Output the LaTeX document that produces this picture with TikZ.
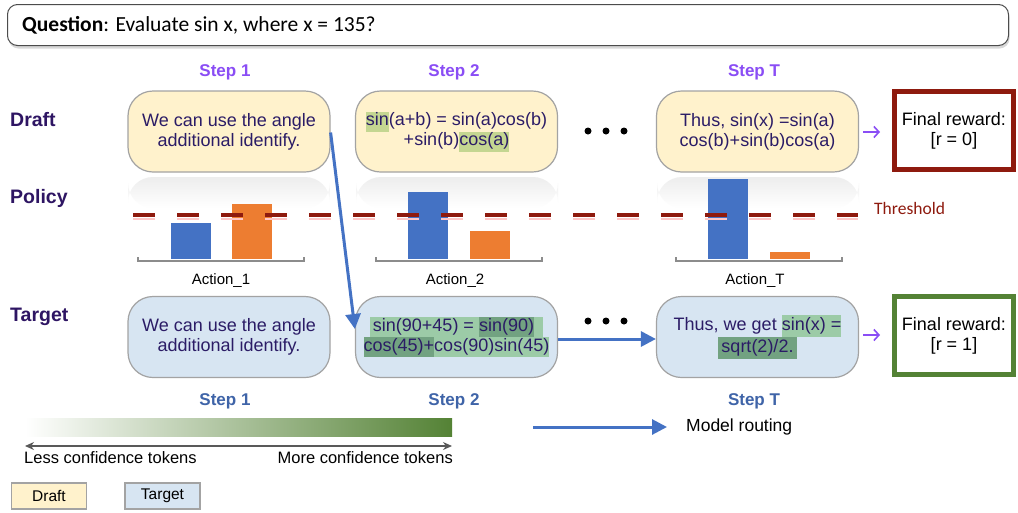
\documentclass[tikz,border=0pt]{standalone}
\usepackage{fontspec}
\setmainfont{Liberation Sans}
\newfontfamily\calib{Carlito}
\usetikzlibrary{arrows.meta,shadows,calc}
\definecolor{draftfill}{HTML}{FFF2CC}
\definecolor{targetfill}{HTML}{D7E5F2}
\definecolor{boxgray}{HTML}{A3A3A3}
\definecolor{txt}{HTML}{2B1C66}
\definecolor{rowlab}{HTML}{2E1563}
\definecolor{steptop}{HTML}{8A4DF5}
\definecolor{stepbot}{HTML}{3F64A8}
\definecolor{barblue}{HTML}{4472C4}
\definecolor{barorange}{HTML}{ED7D31}
\definecolor{darkred}{HTML}{8E1A0E}
\definecolor{darkgreen}{HTML}{548235}
\definecolor{hlolive}{HTML}{C4D691}
\definecolor{hlA}{HTML}{9CCBA7}
\definecolor{hlB}{HTML}{72A281}
\definecolor{purplearrow}{HTML}{8A4DF5}
\newcommand{\hlbox}[2]{{\setlength{\fboxsep}{0pt}\colorbox{#1}{\strut #2}}}
\tikzset{
  stepbox/.style={draw=boxgray, line width=1.2pt, rounded corners=25pt, minimum width=202pt, minimum height=81pt, inner sep=0pt, text=txt, align=center, font=\fontsize{18}{20}\selectfont},
  draftbox/.style={stepbox, fill=draftfill},
  targetbox/.style={stepbox, fill=targetfill},
  rewardbox/.style={line width=5pt, fill=white, minimum width=119pt, minimum height=78pt, align=center, font=\fontsize{18}{20}\selectfont},
  toplab/.style={text=steptop, font=\bfseries\fontsize{17}{20}\selectfont},
  botlab/.style={text=stepbot, font=\bfseries\fontsize{17}{20}\selectfont},
  rowlabel/.style={anchor=west, text=rowlab, font=\bfseries\fontsize{19.5}{22}\selectfont, inner sep=0pt},
  actlab/.style={font=\fontsize{15}{18}\selectfont},
  route/.style={draw=barblue, line width=3pt, -{Triangle[length=15pt,width=15pt]}},
  smallarrow/.style={draw=purplearrow, line width=1.6pt, -{Straight Barb[length=5pt,width=11pt]}},
  dot/.style={circle, fill=black, inner sep=0pt, minimum size=7pt},
  reflect/.style={top color=black!7, bottom color=white, rounded corners=25pt},
  thresh/.style={dash pattern=on 22pt off 22pt, line width=3.5pt, draw=darkred},
  axisline/.style={draw=black!45, line width=1.3pt},
}
\begin{document}
\begin{tikzpicture}[x=1pt,y=-1pt]
\useasboundingbox (0,0) rectangle (1018,512);
\fill[white] (0,0) rectangle (1018,512);

% Question
\node[draw=black!70, line width=1pt, rounded corners=10pt, fill=white,
      drop shadow={opacity=0.3, shadow xshift=1pt, shadow yshift=-3pt},
      minimum width=1001pt, minimum height=41pt] (q) at (508,25) {};
\node[anchor=west, inner sep=0pt, font=\calib\fontsize{21.5}{24}\selectfont] (qt) at (22,25) {\textbf{Question}: Evaluate sin x, where x = 135?};

% row labels
\node[rowlabel] (rdraft) at (10,120) {Draft};
\node[rowlabel] (rpolicy) at (10,198) {Policy};
\node[rowlabel] (rtarget) at (10,317) {Target};

% top step labels
\node[toplab] (s1) at (225,72) {Step 1};
\node[toplab] (s2) at (454,72) {Step 2};
\node[toplab] (sT) at (754,72) {Step T};

% policy reflections
\shade[reflect] (128,177) rectangle (330,208);
\shade[reflect] (356,177) rectangle (558,208);
\shade[reflect] (657,177) rectangle (859,208);

% draft boxes
\node[draftbox] (d1) at (229,131.5) {We can use the angle\\additional identify.};
\node[draftbox] (d2) at (456.5,131.5) {\hlbox{hlolive}{sin}(a+b) = sin(a)cos(b)\\+sin(b)\hlbox{hlolive}{cos(a)}};
\node[draftbox] (d3) at (757.5,131.5) {Thus, sin(x) =sin(a)\\cos(b)+sin(b)cos(a)};

\node[dot] (dd1) at (588,131) {};
\node[dot] (dd2) at (606,131) {};
\node[dot] (dd3) at (624,131) {};

% rewards
\node[rewardbox, draw=darkred] (r0) at (954,130.5) {Final reward:\\{}[r = 0]};
\node[rewardbox, draw=darkgreen] (r1) at (954,335.5) {Final reward:\\{}[r = 1]};
\coordinate (pa1s) at (863,132);
\coordinate (pa1e) at (880,132);
\draw[smallarrow] (pa1s) -- (pa1e);

% bars
\fill[barblue] (171,223) rectangle (211,259);
\fill[barorange] (232,204) rectangle (272,259);
\fill[barblue] (408,192) rectangle (448,259);
\fill[barorange] (470,231) rectangle (510,259);
\fill[barblue] (708,179) rectangle (748,259);
\fill[barorange] (770,252) rectangle (810,259);
\draw[axisline] (138,257) -- (138,261) -- (304,261) -- (304,257);
\draw[axisline] (376,257) -- (376,261) -- (542,261) -- (542,257);
\draw[axisline] (676,257) -- (676,261) -- (842,261) -- (842,257);

% threshold
\draw[thresh, draw=red!22, line width=2pt] (133,219) -- (858,219);
\draw[thresh] (133,215) -- (858,215);
\node[anchor=west, text=darkred, inner sep=0pt, font=\calib\fontsize{17.5}{20}\selectfont] (th) at (874,208) {Threshold};

% action labels
\node[actlab] (a1) at (221,281) {Action\_1};
\node[actlab] (a2) at (455,281) {Action\_2};
\node[actlab] (aT) at (755,281) {Action\_T};

% target boxes
\node[targetbox] (t1) at (229,337) {We can use the angle\\additional identify.};
\node[targetbox] (t2) at (456.5,337) {\hlbox{hlA}{\,sin(90+45) = }\hlbox{hlB}{sin(90)}\hlbox{hlA}{\,\,\,}\\\hlbox{hlB}{cos(45)+}\hlbox{hlA}{cos(90)sin(45)}};
\node[targetbox, font=\fontsize{18}{22}\selectfont] (t3) at (757.5,337) {Thus, we get \hlbox{hlA}{sin(x) =}\\\hlbox{hlB}{\,sqrt(2)/2.\,}};

\node[dot] (td1) at (588,321) {};
\node[dot] (td2) at (606,321) {};
\node[dot] (td3) at (624,321) {};

\coordinate (pa2s) at (863,335);
\coordinate (pa2e) at (880,335);
\draw[smallarrow] (pa2s) -- (pa2e);

% routing arrows
\draw[route] ([yshift=-1pt]d1.east) -- ([yshift=8pt]t2.west);
\draw[route] ([yshift=-2pt]t2.east) -- ([yshift=-2pt]t3.west);

% bottom step labels
\node[botlab] (b1) at (225,401) {Step 1};
\node[botlab] (b2) at (454,401) {Step 2};
\node[botlab] (bT) at (754,401) {Step T};

% gradient legend
\shade[left color=white, right color=darkgreen] (25,418) rectangle (452,436);
\coordinate (gl) at (25,446);
\coordinate (gr) at (452,446);
\draw[black!65, line width=1.3pt, {Stealth[length=9pt,width=8pt]}-{Stealth[length=9pt,width=8pt]}] (gl) -- (gr);
\node[anchor=west, inner sep=0pt, font=\fontsize{16.5}{20}\selectfont] (less) at (24,458) {Less confidence tokens};
\node[anchor=east, inner sep=0pt, font=\fontsize{16.5}{20}\selectfont] (more) at (453,458) {More confidence tokens};

% model routing legend
\coordinate (mrs) at (533,427);
\coordinate (mre) at (667,427);
\draw[route] (mrs) -- (mre);
\node[anchor=west, inner sep=0pt, font=\fontsize{17.5}{20}\selectfont] (mr) at (686,427) {Model routing};

% colour legend
\node[draw=boxgray, line width=1.5pt, fill=draftfill, minimum width=75pt, minimum height=26pt, font=\fontsize{15.5}{18}\selectfont] (ld) at (49,496) {Draft};
\node[draw=boxgray, line width=1.5pt, fill=targetfill, minimum width=75pt, minimum height=26pt, font=\fontsize{15.5}{18}\selectfont] (lt) at (162.5,496) {Target};
\end{tikzpicture}
\end{document}
